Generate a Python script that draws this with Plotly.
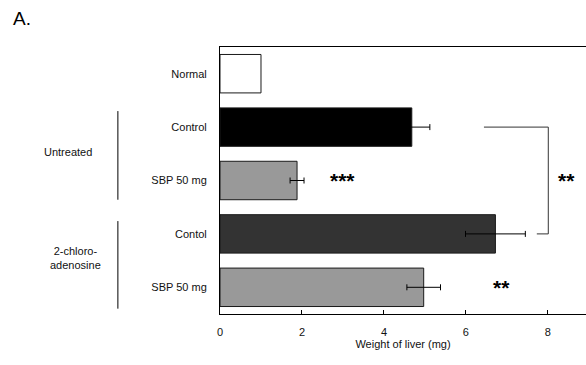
import plotly.graph_objects as go

# Liver weight (mg), mean and error per group, listed top to bottom
categories = ["Normal", "Control", "SBP 50 mg", "Contol", "SBP 50 mg"]
weights = [1.0, 4.68, 1.88, 6.72, 4.97]
errors = [None, 0.44, 0.17, 0.73, 0.41]
bar_colors = ["#ffffff", "#000000", "#999999", "#333333", "#999999"]
x_ticks = [0, 2, 4, 6, 8]

positions = list(range(len(categories)))
FONT = "Liberation Sans, Arial, sans-serif"

fig = go.Figure(
    go.Bar(
        x=weights,
        y=positions,
        orientation="h",
        width=0.72,
        marker=dict(color=bar_colors, line=dict(color="#1a1a1a", width=1)),
        showlegend=False,
        hoverinfo="skip",
    )
)

# Error bars only for groups that have a spread
with_err = [i for i, e in enumerate(errors) if e is not None]
fig.add_trace(
    go.Scatter(
        x=[weights[i] for i in with_err],
        y=[positions[i] for i in with_err],
        mode="markers",
        marker=dict(size=1, color="rgba(0,0,0,0)"),
        error_x=dict(type="data", array=[errors[i] for i in with_err], visible=True,
                     color="#000000", thickness=1, width=3),
        showlegend=False,
    )
)

fig.update_layout(
    width=586,
    height=365,
    margin=dict(l=220, r=0, t=47, b=51),
    paper_bgcolor="white",
    plot_bgcolor="white",
    font=dict(family=FONT, size=11, color="#111111"),
)

fig.update_xaxes(
    range=[0, 8.93],
    tickvals=x_ticks,
    ticks="inside",
    ticklen=4,
    tickcolor="#000000",
    showline=True,
    linecolor="#000000",
    linewidth=1,
    mirror=True,
    showgrid=False,
    zeroline=False,
    ticklabelstandoff=8,
    title=dict(text="Weight of liver (mg)", font=dict(size=11), standoff=2),
)
fig.update_yaxes(
    range=[4.5, -0.5],
    tickvals=positions,
    ticktext=categories,
    ticks="",
    showline=True,
    linecolor="#000000",
    linewidth=1,
    showgrid=False,
    zeroline=False,
    ticklabelstandoff=10,
)

# Significance bracket between the two control groups
bracket = dict(type="line", xref="x", yref="y", line=dict(color="#333333", width=1))
fig.add_shape(x0=6.44, x1=8.01, y0=1, y1=1, **bracket)
fig.add_shape(x0=8.01, x1=8.01, y0=1, y1=3, **bracket)
fig.add_shape(x0=7.73, x1=8.01, y0=3, y1=3, **bracket)

# Group dividers on the left
group = dict(type="line", xref="paper", yref="y", line=dict(color="#000000", width=1))
fig.add_shape(x0=-0.279, x1=-0.279, y0=0.7, y1=2.36, **group)
fig.add_shape(x0=-0.279, x1=-0.279, y0=2.76, y1=4.4, **group)

star_font = dict(family=FONT, size=21, color="#000000")
for sx, sy, txt in [(3.0, 2, "***"), (6.86, 4, "**"), (8.46, 2, "**")]:
    fig.add_annotation(x=sx, y=sy, text=f"<b>{txt}</b>", showarrow=False,
                       font=star_font, xanchor="center", yanchor="middle")

fig.add_annotation(xref="paper", x=-0.415, y=1.47, text="Untreated",
                   xanchor="center", showarrow=False, font=dict(size=11))
fig.add_annotation(xref="paper", x=-0.396, y=3.45, text="2-chloro-<br>adenosine",
                   xanchor="center", showarrow=False, font=dict(size=11))

fig.add_annotation(xref="paper", yref="paper", x=-0.571, y=1.105, xanchor="left",
                   yanchor="middle", text="A.", showarrow=False,
                   font=dict(size=19, color="#000000"))

fig.write_html("out.html")
